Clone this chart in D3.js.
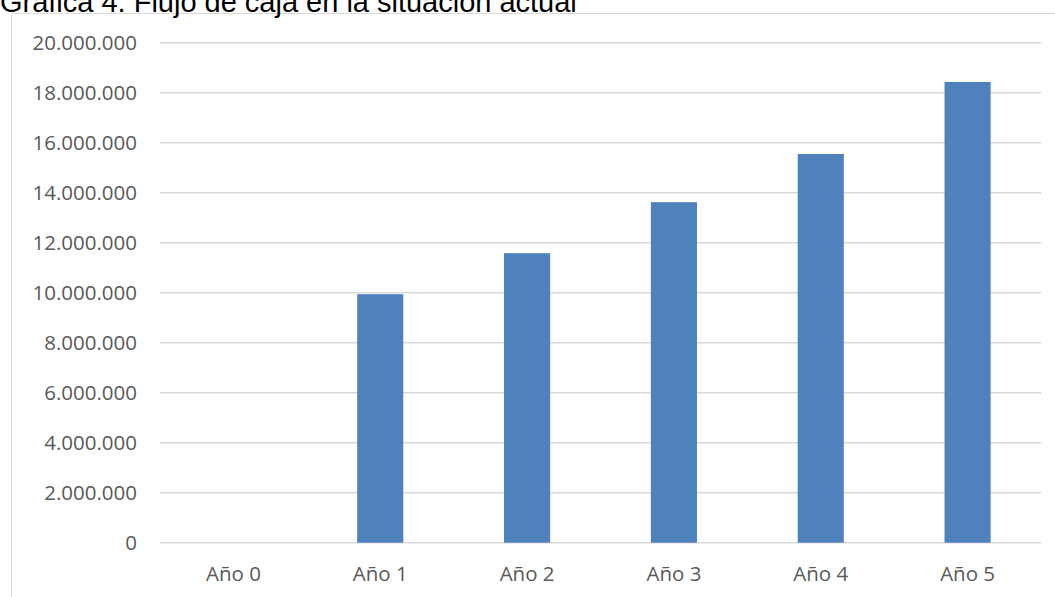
<!DOCTYPE html>
<html>
<head>
<meta charset="utf-8">
<script src="https://cdn.jsdelivr.net/npm/d3@7"></script>
<style>
  html, body { margin: 0; padding: 0; background: #fff; }
  svg { display: block; }
</style>
</head>
<body>
<svg id="chart" width="1055" height="597"></svg>
<script>
// Flujo de caja por año
const categories = ["Año 0", "Año 1", "Año 2", "Año 3", "Año 4", "Año 5"];
const values = [0, 9940000, 11580000, 13620000, 15550000, 18430000];
const yTicks = [0, 2000000, 4000000, 6000000, 8000000, 10000000, 12000000, 14000000, 16000000, 18000000, 20000000];
const title = "Gráfica 4. Flujo de caja en la situación actual";

const W = 1055, H = 597;
const svg = d3.select("#chart");

// chart area frame (top and left edges visible)
svg.append("line").attr("x1", 11.5).attr("x2", W).attr("y1", 13.5).attr("y2", 13.5)
  .attr("stroke", "#d9d9d9").attr("stroke-width", 1);
svg.append("line").attr("x1", 11.5).attr("x2", 11.5).attr("y1", 13.5).attr("y2", H)
  .attr("stroke", "#d9d9d9").attr("stroke-width", 1);

// title, sitting above the frame
const t = svg.append("text")
  .attr("x", 0).attr("y", 12)
  .attr("font-family", "'Liberation Sans', Arial, sans-serif")
  .attr("font-size", 21)
  .attr("fill", "#000")
  .text(title);
const tw = t.node().getComputedTextLength();
t.attr("font-size", 21 * 577 / tw);

const plotLeft = 160, plotRight = 1041, plotTop = 42.7, plotBottom = 542.7;

const x = d3.scaleBand().domain(categories).range([plotLeft, plotRight]).paddingInner(0.686).paddingOuter(0.343);
const y = d3.scaleLinear().domain([0, 20000000]).range([plotBottom, plotTop]);

const fmt = v => d3.format(",")(v).replace(/,/g, ".");

// horizontal gridlines
svg.append("g")
  .selectAll("line")
  .data(yTicks)
  .join("line")
  .attr("x1", plotLeft).attr("x2", plotRight)
  .attr("y1", d => y(d)).attr("y2", d => y(d))
  .attr("stroke", "#d9d9d9").attr("stroke-width", 1.5);

// y axis labels
const yAxis = d3.axisLeft(y).tickValues(yTicks).tickFormat(fmt).tickSize(0).tickPadding(0);
const gy = svg.append("g").attr("transform", `translate(137,0)`).call(yAxis);
gy.select(".domain").remove();
gy.selectAll("text")
  .attr("font-family", "'Open Sans', sans-serif")
  .attr("font-size", 20.5)
  .attr("fill", "#595959")
  .attr("dy", "0.35em");

// bars
svg.append("g")
  .selectAll("rect")
  .data(values)
  .join("rect")
  .attr("x", (d, i) => x(categories[i]))
  .attr("width", x.bandwidth())
  .attr("y", d => y(d))
  .attr("height", d => y(0) - y(d))
  .attr("fill", "#4f81bd");

// x axis labels
const xAxis = d3.axisBottom(x).tickSize(0).tickPadding(0);
const gx = svg.append("g").attr("transform", `translate(0,${plotBottom})`).call(xAxis);
gx.select(".domain").remove();
gx.selectAll("text")
  .attr("font-family", "'Open Sans', sans-serif")
  .attr("font-size", 20.5)
  .attr("fill", "#595959")
  .attr("dy", null)
  .attr("y", 38);
</script>
</body>
</html>
